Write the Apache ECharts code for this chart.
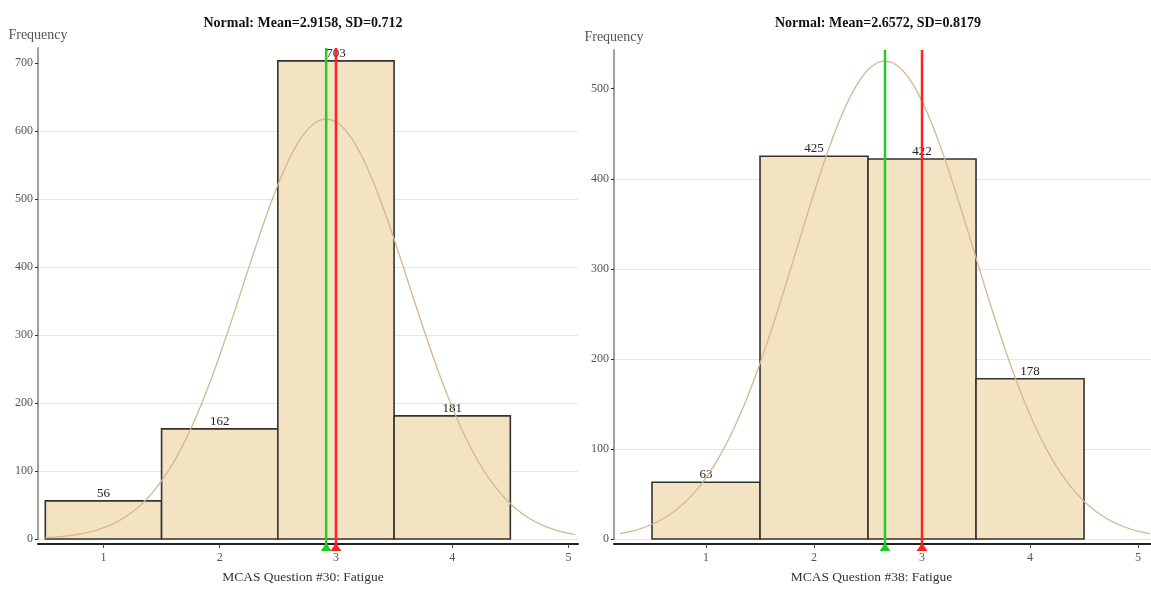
<!DOCTYPE html>
<html>
<head>
<meta charset="utf-8">
<script src="https://cdn.jsdelivr.net/npm/echarts@6/dist/echarts.min.js"></script>
<style>
  html, body { margin: 0; padding: 0; background: #ffffff; }
  #chart { width: 1151px; height: 589px; }
</style>
</head>
<body>
<div id="chart"></div>
<script>
// Response categories (bin centres) shared by both histograms
const responses = [1, 2, 3, 4];

// Frequencies per response
const fatigue30Counts = [56, 162, 703, 181];
const fatigue38Counts = [63, 425, 422, 178];

// Fitted normal parameters and median per question
const fatigue30Fit = { mean: 2.9158, sd: 0.712, median: 3 };
const fatigue38Fit = { mean: 2.6572, sd: 0.8179, median: 3 };

// Tick labels
const xTicks = [1, 2, 3, 4, 5];
const yTicks30 = [0, 100, 200, 300, 400, 500, 600, 700];
const yTicks38 = [0, 100, 200, 300, 400, 500];

const SERIF = '"Liberation Serif", "DejaVu Serif", serif';
const BAR_FILL = '#f3e3c2';
const BAR_STROKE = '#333333';
const CURVE_COLOR = '#d6b68a';
const MEAN_COLOR = '#22cc22';
const MEDIAN_COLOR = '#ff2222';

// Normal density scaled to counts (bin width 1), spanning the bins and +/- 3 SD
function fittedCurve(fit, counts) {
  const n = counts.reduce((a, b) => a + b, 0);
  const lo = Math.min(responses[0] - 0.5, fit.mean - 3 * fit.sd);
  const hi = Math.max(responses[responses.length - 1] + 0.5, fit.mean + 3 * fit.sd);
  const steps = 200;
  const pts = [];
  for (let i = 0; i <= steps; i++) {
    const x = lo + (hi - lo) * i / steps;
    const z = (x - fit.mean) / fit.sd;
    pts.push([x, n * Math.exp(-z * z / 2) / (fit.sd * Math.sqrt(2 * Math.PI))]);
  }
  return pts;
}

// Histogram bars: each bin spans [x - 0.5, x + 0.5]
function histogramSeries(counts, idx) {
  return {
    type: 'custom',
    xAxisIndex: idx,
    yAxisIndex: idx,
    z: 2,
    data: responses.map((r, i) => [r, counts[i]]),
    renderItem(params, api) {
      const x = api.value(0);
      const v = api.value(1);
      const topLeft = api.coord([x - 0.5, v]);
      const bottomRight = api.coord([x + 0.5, 0]);
      return {
        type: 'group',
        children: [
          {
            type: 'rect',
            shape: {
              x: topLeft[0], y: topLeft[1],
              width: bottomRight[0] - topLeft[0],
              height: bottomRight[1] - topLeft[1]
            },
            style: { fill: BAR_FILL, stroke: BAR_STROKE, lineWidth: 1.6 }
          },
          {
            type: 'text',
            style: {
              text: String(v),
              x: (topLeft[0] + bottomRight[0]) / 2,
              y: topLeft[1] - 1,
              align: 'center',
              verticalAlign: 'bottom',
              font: '13px ' + SERIF,
              fill: '#222222'
            }
          }
        ]
      };
    }
  };
}

function curveSeries(fit, counts, idx) {
  return {
    type: 'line',
    xAxisIndex: idx,
    yAxisIndex: idx,
    z: 3,
    symbol: 'none',
    silent: true,
    data: fittedCurve(fit, counts),
    lineStyle: { color: CURVE_COLOR, width: 1.3 }
  };
}

// Mean (green) and median (red) reference lines with triangles on the x axis
function markerSeries(fit, idx) {
  return {
    type: 'custom',
    xAxisIndex: idx,
    yAxisIndex: idx,
    z: 5,
    silent: true,
    clip: false,
    data: [[fit.mean, 0], [fit.median, 1]],
    renderItem(params, api) {
      const cs = params.coordSys;
      const px = api.coord([api.value(0), 0])[0];
      const color = api.value(1) === 0 ? MEAN_COLOR : MEDIAN_COLOR;
      const base = cs.y + cs.height;
      return {
        type: 'group',
        children: [
          {
            type: 'line',
            shape: { x1: px, y1: cs.y, x2: px, y2: base + 8 },
            style: { stroke: color, lineWidth: 2.5 }
          },
          {
            type: 'polygon',
            shape: { points: [[px - 5.5, base + 12], [px + 5.5, base + 12], [px, base + 4]] },
            style: { fill: color }
          }
        ]
      };
    }
  };
}

function xAxisOpt(idx, min, max, name, namePad) {
  return {
    type: 'value',
    gridIndex: idx,
    min: min,
    max: max,
    offset: 5,
    name: name,
    nameLocation: 'middle',
    nameGap: 26,
    nameTextStyle: { fontFamily: SERIF, fontSize: 13.5, color: '#333333', padding: namePad },
    axisLine: { show: true, onZero: false, lineStyle: { color: '#222222', width: 2 } },
    axisTick: { show: true, length: 4, customValues: xTicks, lineStyle: { color: '#444444' } },
    axisLabel: { customValues: xTicks, fontFamily: SERIF, fontSize: 12, color: '#555555', margin: 8 },
    splitLine: { show: false }
  };
}

function yAxisOpt(idx, max, ticks) {
  return {
    type: 'value',
    gridIndex: idx,
    min: 0,
    max: max,
    interval: 100,
    name: 'Frequency',
    nameLocation: 'end',
    nameGap: 6,
    nameTextStyle: { fontFamily: SERIF, fontSize: 14, color: '#555555' },
    axisLine: { show: true, lineStyle: { color: '#a0a0a0', width: 2 } },
    axisTick: { show: true, length: 3, customValues: ticks, lineStyle: { color: '#333333' } },
    axisLabel: { customValues: ticks, fontFamily: SERIF, fontSize: 12, color: '#555555', margin: 5 },
    splitLine: { show: true, showMaxLine: false, lineStyle: { color: '#e6e6e6', width: 1 } }
  };
}

const chart = echarts.init(document.getElementById('chart'), null, { renderer: 'canvas' });

chart.setOption({
  backgroundColor: '#ffffff',
  animation: false,
  title: [
    {
      text: 'Normal: Mean=' + fatigue30Fit.mean + ', SD=' + fatigue30Fit.sd,
      left: 298, top: 11, textAlign: 'center',
      textStyle: { fontFamily: SERIF, fontSize: 14, fontWeight: 'bold', color: '#111111' }
    },
    {
      text: 'Normal: Mean=' + fatigue38Fit.mean + ', SD=' + fatigue38Fit.sd,
      left: 873, top: 11, textAlign: 'center',
      textStyle: { fontFamily: SERIF, fontSize: 14, fontWeight: 'bold', color: '#111111' }
    }
  ],
  grid: [
    { left: 38, top: 48, right: 573, bottom: 44, containLabel: false },
    { left: 614, top: 50, right: 0, bottom: 43, containLabel: false }
  ],
  xAxis: [
    xAxisOpt(0, 0.437, 5.082, 'MCAS Question #30: Fatigue', [0, 10, 0, 0]),
    xAxisOpt(1, 0.148, 5.12, 'MCAS Question #38: Fatigue', [0, 22, 0, 0])
  ],
  yAxis: [
    yAxisOpt(0, 722, yTicks30),
    yAxisOpt(1, 543, yTicks38)
  ],
  series: [
    histogramSeries(fatigue30Counts, 0),
    curveSeries(fatigue30Fit, fatigue30Counts, 0),
    markerSeries(fatigue30Fit, 0),
    histogramSeries(fatigue38Counts, 1),
    curveSeries(fatigue38Fit, fatigue38Counts, 1),
    markerSeries(fatigue38Fit, 1)
  ]
});
</script>
</body>
</html>
